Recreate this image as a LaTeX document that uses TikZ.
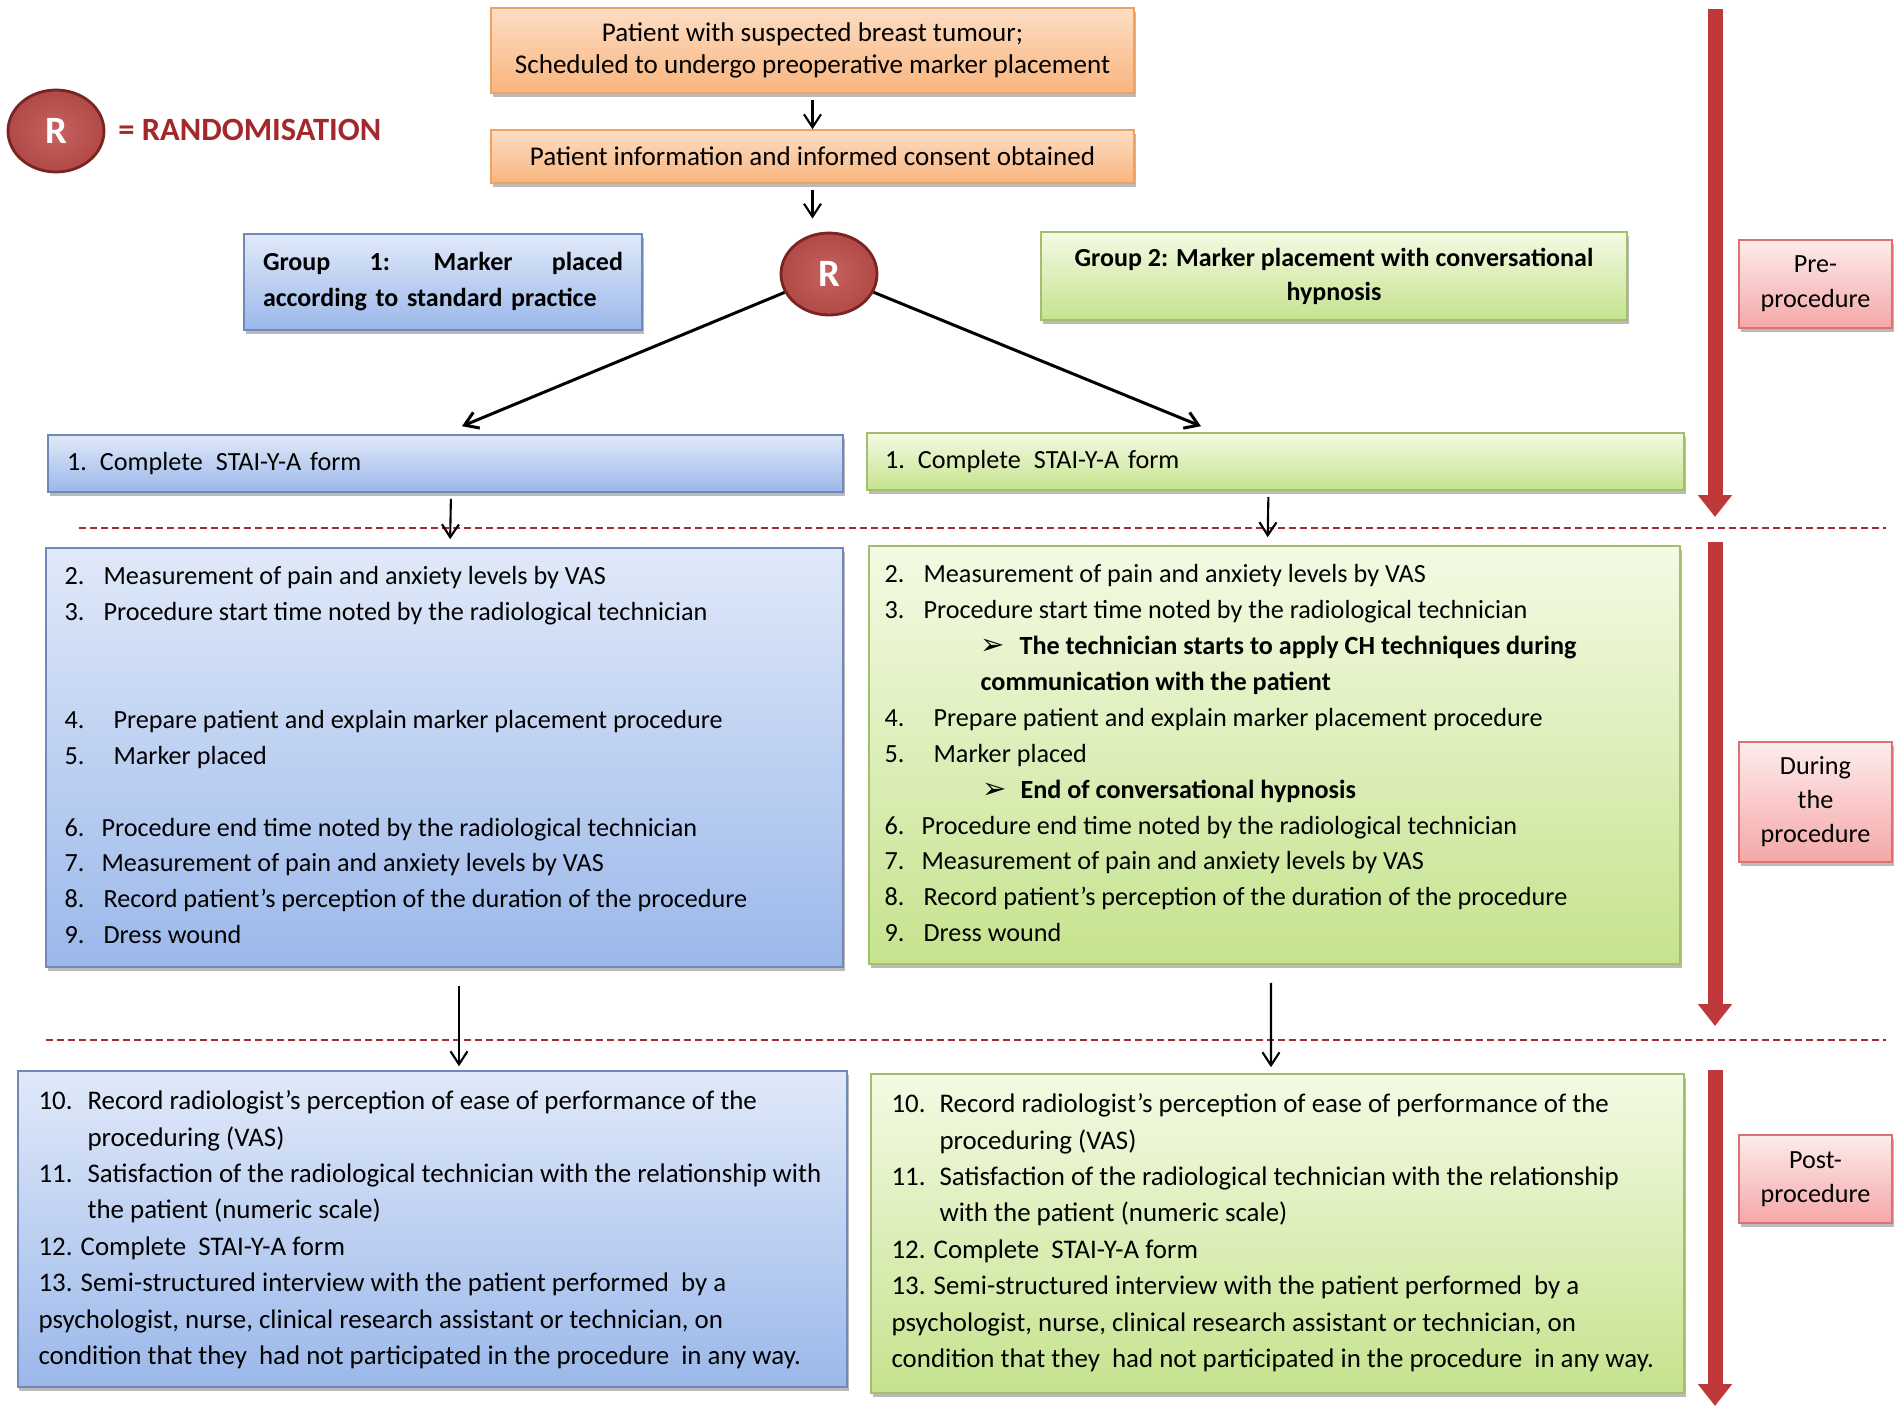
\documentclass[tikz,border=0pt]{standalone}
\usepackage{fontspec}
\setmainfont{Carlito}
\newfontfamily\dingfont{DejaVu Sans}
\usetikzlibrary{arrows.meta,shapes.geometric,shadows}

\definecolor{bluetop}{HTML}{E0E9F9}
\definecolor{bluebot}{HTML}{9BB8EA}
\definecolor{blueline}{HTML}{7089B8}
\definecolor{greentop}{HTML}{F4FAE4}
\definecolor{greenbot}{HTML}{C5E38E}
\definecolor{greenline}{HTML}{A3BF6E}
\definecolor{orangetop}{HTML}{FDDDC3}
\definecolor{orangebot}{HTML}{F9B57E}
\definecolor{orangeline}{HTML}{EFA162}
\definecolor{pinktop}{HTML}{FDECEC}
\definecolor{pinkbot}{HTML}{F5A7A7}
\definecolor{pinkline}{HTML}{DD7070}
\definecolor{randfill}{HTML}{C0504D}
\definecolor{randedge}{HTML}{7A2422}
\definecolor{phasered}{HTML}{C0393A}
\definecolor{cutred}{HTML}{A02C3A}
\definecolor{legendred}{HTML}{A3282B}

\tikzset{
  flowbox/.style={rectangle, draw, line width=0.9pt, inner sep=0pt,
    drop shadow={shadow xshift=0.03cm, shadow yshift=-0.08cm, opacity=0.45, fill=black!60}},
  bluebox/.style={flowbox, draw=blueline, top color=bluetop, bottom color=bluebot},
  greenbox/.style={flowbox, draw=greenline, top color=greentop, bottom color=greenbot},
  orangebox/.style={flowbox, draw=orangeline, top color=orangetop, bottom color=orangebot},
  pinkbox/.style={flowbox, draw=pinkline, top color=pinktop, bottom color=pinkbot, align=center,
    minimum width=3.06cm},
  randnode/.style={ellipse, draw=randedge, line width=1.6pt, inner color=randfill!90!white,
    outer color=randfill!92!black, text=white, font=\fontsize{22}{22}\selectfont\bfseries,
    minimum width=1.92cm, minimum height=1.64cm, inner sep=0pt},
  itemline/.style={anchor=base west, inner sep=0pt},
  flowarrow/.style={-{Straight Barb[length=0.26cm,width=0.34cm]}, line width=1.2pt},
  phasearrow/.style={-{Triangle[width=0.66cm,length=0.44cm]}, line width=0.3cm, phasered},
  phasecut/.style={cutred, line width=1.4pt, dash pattern=on 0.14cm off 0.08cm},
}

\begin{document}
\begin{tikzpicture}[font=\fontsize{14.9}{20.4}\selectfont]
\useasboundingbox (0,0) rectangle (38.04,-28.28);

% legend
\node[randnode] (legR) at (1.12,-2.62) {R};
\node[anchor=west, inner sep=0pt, text=legendred, font=\fontsize{18.5}{18.5}\selectfont\bfseries] (legtxt) at (2.36,-2.60) {= RANDOMISATION};

% start of the pathway
\node[orangebox, minimum width=12.86cm, minimum height=1.70cm, align=center,
      font=\fontsize{15.4}{17.9}\selectfont] (patient) at (16.25,-1.01)
      {Patient with suspected breast tumour;\\Scheduled to undergo preoperative marker placement};
\node[orangebox, minimum width=12.86cm, minimum height=1.06cm, font=\fontsize{15.4}{17.9}\selectfont] (consent) at (16.25,-3.13)
      {Patient information and informed consent obtained};
\node[randnode] (rand) at (16.58,-5.48) {R};

\node[bluebox, minimum width=7.96cm, minimum height=1.92cm, text width=7.2cm, align=left,
      font=\fontsize{14.8}{20.5}\selectfont\bfseries] (grpone) at (8.86,-5.64)
      {Group \hfill 1: \hfill Marker \hfill placed\\according to standard practice};
\node[greenbox, minimum width=11.72cm, minimum height=1.76cm, align=center,
      font=\fontsize{14.8}{19.4}\selectfont\bfseries] (grptwo) at (26.68,-5.52)
      {Group 2: Marker placement with conversational\\hypnosis};

\node[bluebox, minimum width=15.9cm, minimum height=1.14cm, text width=15.14cm, align=left] (staione) at (8.91,-9.27)
      {1. Complete\hspace{0.5em}STAI-Y-A form};
\node[greenbox, minimum width=16.34cm, minimum height=1.14cm, text width=15.62cm, align=left] (staitwo) at (25.51,-9.23)
      {1. Complete\hspace{0.5em}STAI-Y-A form};

% phase cuts
\coordinate (cutA1) at (1.58,-10.56);
\coordinate (cutA2) at (37.72,-10.56);
\coordinate (cutB1) at (0.92,-20.80);
\coordinate (cutB2) at (37.72,-20.80);
\draw[phasecut] (cutA1) -- (cutA2);
\draw[phasecut] (cutB1) -- (cutB2);

% during the procedure
\node[bluebox, minimum width=15.94cm, minimum height=8.38cm] (midone) at (8.89,-15.15) {};
\node[greenbox, minimum width=16.22cm, minimum height=8.36cm] (midtwo) at (25.49,-15.10) {};

\foreach \k/\lab/\dx/\txt in {0/2./1.16/{Measurement of pain and anxiety levels by VAS},
    1/3./1.16/{Procedure start time noted by the radiological technician},
    4/4./1.36/{Prepare patient and explain marker placement procedure},
    5/5./1.36/{Marker placed},
    7/6./1.12/{Procedure end time noted by the radiological technician},
    8/7./1.12/{Measurement of pain and anxiety levels by VAS},
    9/8./1.16/{Record patient’s perception of the duration of the procedure},
    10/9./1.16/{Dress wound}}
{
  \node[itemline] (onenum\k) at ([shift={(0.38,-0.75-0.718*\k)}]midone.north west) {\lab};
  \node[itemline] (onetxt\k) at ([shift={(\dx,-0.75-0.718*\k)}]midone.north west) {\txt};
}

\foreach \k/\lab/\dx/\txt in {0/2./1.10/{Measurement of pain and anxiety levels by VAS},
    1/3./1.10/{Procedure start time noted by the radiological technician},
    4/4./1.30/{Prepare patient and explain marker placement procedure},
    5/5./1.30/{Marker placed},
    7/6./1.06/{Procedure end time noted by the radiological technician},
    8/7./1.06/{Measurement of pain and anxiety levels by VAS},
    9/8./1.10/{Record patient’s perception of the duration of the procedure},
    10/9./1.10/{Dress wound}}
{
  \node[itemline] (twonum\k) at ([shift={(0.32,-0.75-0.718*\k)}]midtwo.north west) {\lab};
  \node[itemline] (twotxt\k) at ([shift={(\dx,-0.75-0.718*\k)}]midtwo.north west) {\txt};
}
% hypnosis steps
\node[itemline, font=\fontsize{16.5}{20}\selectfont] (twobul2) at ([shift={(2.24,-0.75-0.718*2)}]midtwo.north west) {\dingfont ➢};
\node[itemline, font=\fontsize{14.9}{20.4}\selectfont\bfseries] (twotxt2) at ([shift={(3.02,-0.75-0.718*2)}]midtwo.north west)
      {The technician starts to apply CH techniques during};
\node[itemline, font=\fontsize{14.9}{20.4}\selectfont\bfseries] (twotxt3) at ([shift={(2.24,-0.75-0.718*3)}]midtwo.north west)
      {communication with the patient};
\node[itemline, font=\fontsize{16.5}{20}\selectfont] (twobul6) at ([shift={(2.28,-0.75-0.718*6)}]midtwo.north west) {\dingfont ➢};
\node[itemline, font=\fontsize{14.9}{20.4}\selectfont\bfseries] (twotxt6) at ([shift={(3.04,-0.75-0.718*6)}]midtwo.north west)
      {End of conversational hypnosis};

% post-procedure
\node[bluebox, minimum width=16.58cm, minimum height=6.32cm] (lowone) at (8.65,-24.58) {};
\node[greenbox, minimum width=16.26cm, minimum height=6.38cm] (lowtwo) at (25.55,-24.67) {};

\begin{scope}[font=\fontsize{15.3}{20.7}\selectfont]
\foreach \k/\lab/\dx/\txt in {0/10./1.40/{Record radiologist’s perception of ease of performance of the},
    1/{}/1.40/{proceduring (VAS)},
    2/11./1.40/{Satisfaction of the radiological technician with the relationship with},
    3/{}/1.40/{the patient (numeric scale)},
    4/{}/0.42/{12. Complete\ \ STAI-Y-A form},
    5/{}/0.42/{13. Semi-structured interview with the patient performed\ \ by a},
    6/{}/0.42/{psychologist, nurse, clinical research assistant or technician, on},
    7/{}/0.42/{condition that they\ \ had not participated in the procedure\ \ in any way.}}
{
  \node[itemline] (lonenum\k) at ([shift={(0.42,-0.79-0.728*\k)}]lowone.north west) {\lab};
  \node[itemline] (lonetxt\k) at ([shift={(\dx,-0.79-0.728*\k)}]lowone.north west) {\txt};
}

\foreach \k/\lab/\dx/\txt in {0/10./1.38/{Record radiologist’s perception of ease of performance of the},
    1/{}/1.38/{proceduring (VAS)},
    2/11./1.38/{Satisfaction of the radiological technician with the relationship},
    3/{}/1.38/{with the patient (numeric scale)},
    4/{}/0.42/{12. Complete\ \ STAI-Y-A form},
    5/{}/0.42/{13. Semi-structured interview with the patient performed\ \ by a},
    6/{}/0.42/{psychologist, nurse, clinical research assistant or technician, on},
    7/{}/0.42/{condition that they\ \ had not participated in the procedure\ \ in any way.}}
{
  \node[itemline] (ltwonum\k) at ([shift={(0.42,-0.79-0.728*\k)}]lowtwo.north west) {\lab};
  \node[itemline] (ltwotxt\k) at ([shift={(\dx,-0.79-0.728*\k)}]lowtwo.north west) {\txt};
}
\end{scope}

% phase labels
\node[pinkbox, minimum height=1.76cm, font=\fontsize{14.9}{20}\selectfont] (prebox) at (36.31,-5.68) {Pre-\\procedure};
\node[pinkbox, minimum height=2.40cm, font=\fontsize{14.9}{19.3}\selectfont] (durbox) at (36.31,-16.04) {During\\the\\procedure};
\node[pinkbox, minimum height=1.76cm, font=\fontsize{14.9}{19.6}\selectfont] (postbox) at (36.31,-23.58) {Post-\\procedure};

\coordinate (preTop) at (34.30,-0.18);
\coordinate (preEnd) at (34.30,-10.34);
\coordinate (durTop) at (34.30,-10.84);
\coordinate (durEnd) at (34.30,-20.52);
\coordinate (postTop) at (34.30,-21.40);
\coordinate (postEnd) at (34.30,-28.12);
\draw[phasearrow] (preTop) -- (preEnd);
\draw[phasearrow] (durTop) -- (durEnd);
\draw[phasearrow] (postTop) -- (postEnd);

% connectors
\draw[flowarrow, shorten <=0.12cm] (patient.south) -- (consent.north);
\draw[flowarrow, shorten <=0.12cm, shorten >=0.26cm] (consent.south) -- (consent.south |- rand.north);
\draw[flowarrow, line width=1.7pt] (rand) -- ([xshift=0.33cm,yshift=0.16cm]staione.north);
\draw[flowarrow, line width=1.7pt] (rand) -- ([xshift=-1.49cm,yshift=0.12cm]staitwo.north);
\draw[flowarrow, shorten <=0.12cm, shorten >=0.16cm] ([xshift=0.11cm]staione.south) -- ([xshift=0.11cm]midone.north);
\draw[flowarrow, shorten <=0.12cm, shorten >=0.16cm] ([xshift=-0.14cm]staitwo.south) -- ([xshift=-0.14cm]midtwo.north);
\draw[flowarrow, shorten <=0.36cm, shorten >=0.08cm] ([xshift=0.29cm]midone.south) -- ([xshift=0.53cm]lowone.north);
\draw[flowarrow, shorten <=0.36cm, shorten >=0.12cm] ([xshift=-0.07cm]midtwo.south) -- ([xshift=-0.13cm]lowtwo.north);
\end{tikzpicture}
\end{document}
